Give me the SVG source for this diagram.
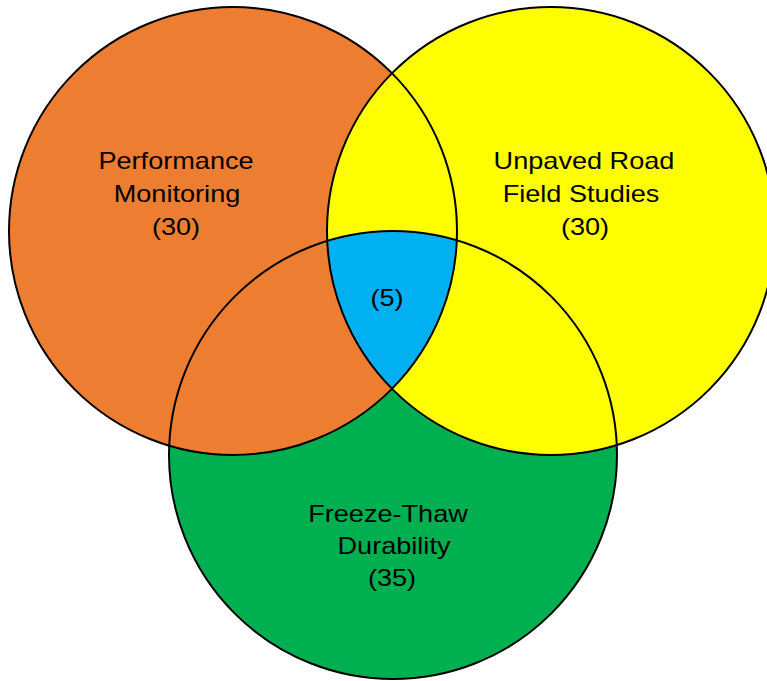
<svg xmlns="http://www.w3.org/2000/svg" width="767" height="681" viewBox="0 0 767 681">
<style>
.lbl{font-family:"Liberation Sans",Arial,sans-serif;font-size:24px;fill:#000;text-anchor:middle}
.ring{fill:none;stroke:#000;stroke-width:2}
</style>
<defs>
<clipPath id="cOrange"><circle cx="233" cy="231" r="224"/></clipPath>
<clipPath id="cYellow"><circle cx="551" cy="231" r="224"/></clipPath>
</defs>
<rect width="767" height="681" fill="#fff"/>
<g id="freeze-thaw">
<circle cx="393" cy="455" r="224" fill="#00B050"/>
</g>
<g id="performance">
<circle cx="233" cy="231" r="224" fill="#ED7D31"/>
</g>
<g id="unpaved">
<circle cx="551" cy="231" r="224" fill="#FFFF00"/>
</g>
<g id="center">
<g clip-path="url(#cYellow)"><circle cx="393" cy="455" r="224" fill="#00B0F0" clip-path="url(#cOrange)"/></g>
</g>
<g id="outlines">
<circle class="ring" cx="393" cy="455" r="224"/>
<circle class="ring" cx="233" cy="231" r="224"/>
<circle class="ring" cx="551" cy="231" r="224"/>
</g>
<g id="labels">
<text class="lbl" transform="translate(176,169) scale(1.13,1)">Performance</text>
<text class="lbl" transform="translate(177,202) scale(1.13,1)">Monitoring</text>
<text class="lbl" transform="translate(176,235) scale(1.13,1)">(30)</text>
<text class="lbl" transform="translate(584,169) scale(1.13,1)">Unpaved Road</text>
<text class="lbl" transform="translate(581,202) scale(1.13,1)">Field Studies</text>
<text class="lbl" transform="translate(585,235) scale(1.13,1)">(30)</text>
<text class="lbl" transform="translate(387,306) scale(1.13,1)">(5)</text>
<text class="lbl" transform="translate(388,522) scale(1.13,1)">Freeze-Thaw</text>
<text class="lbl" transform="translate(394,554) scale(1.13,1)">Durability</text>
<text class="lbl" transform="translate(392,586) scale(1.13,1)">(35)</text>
</g>
</svg>
